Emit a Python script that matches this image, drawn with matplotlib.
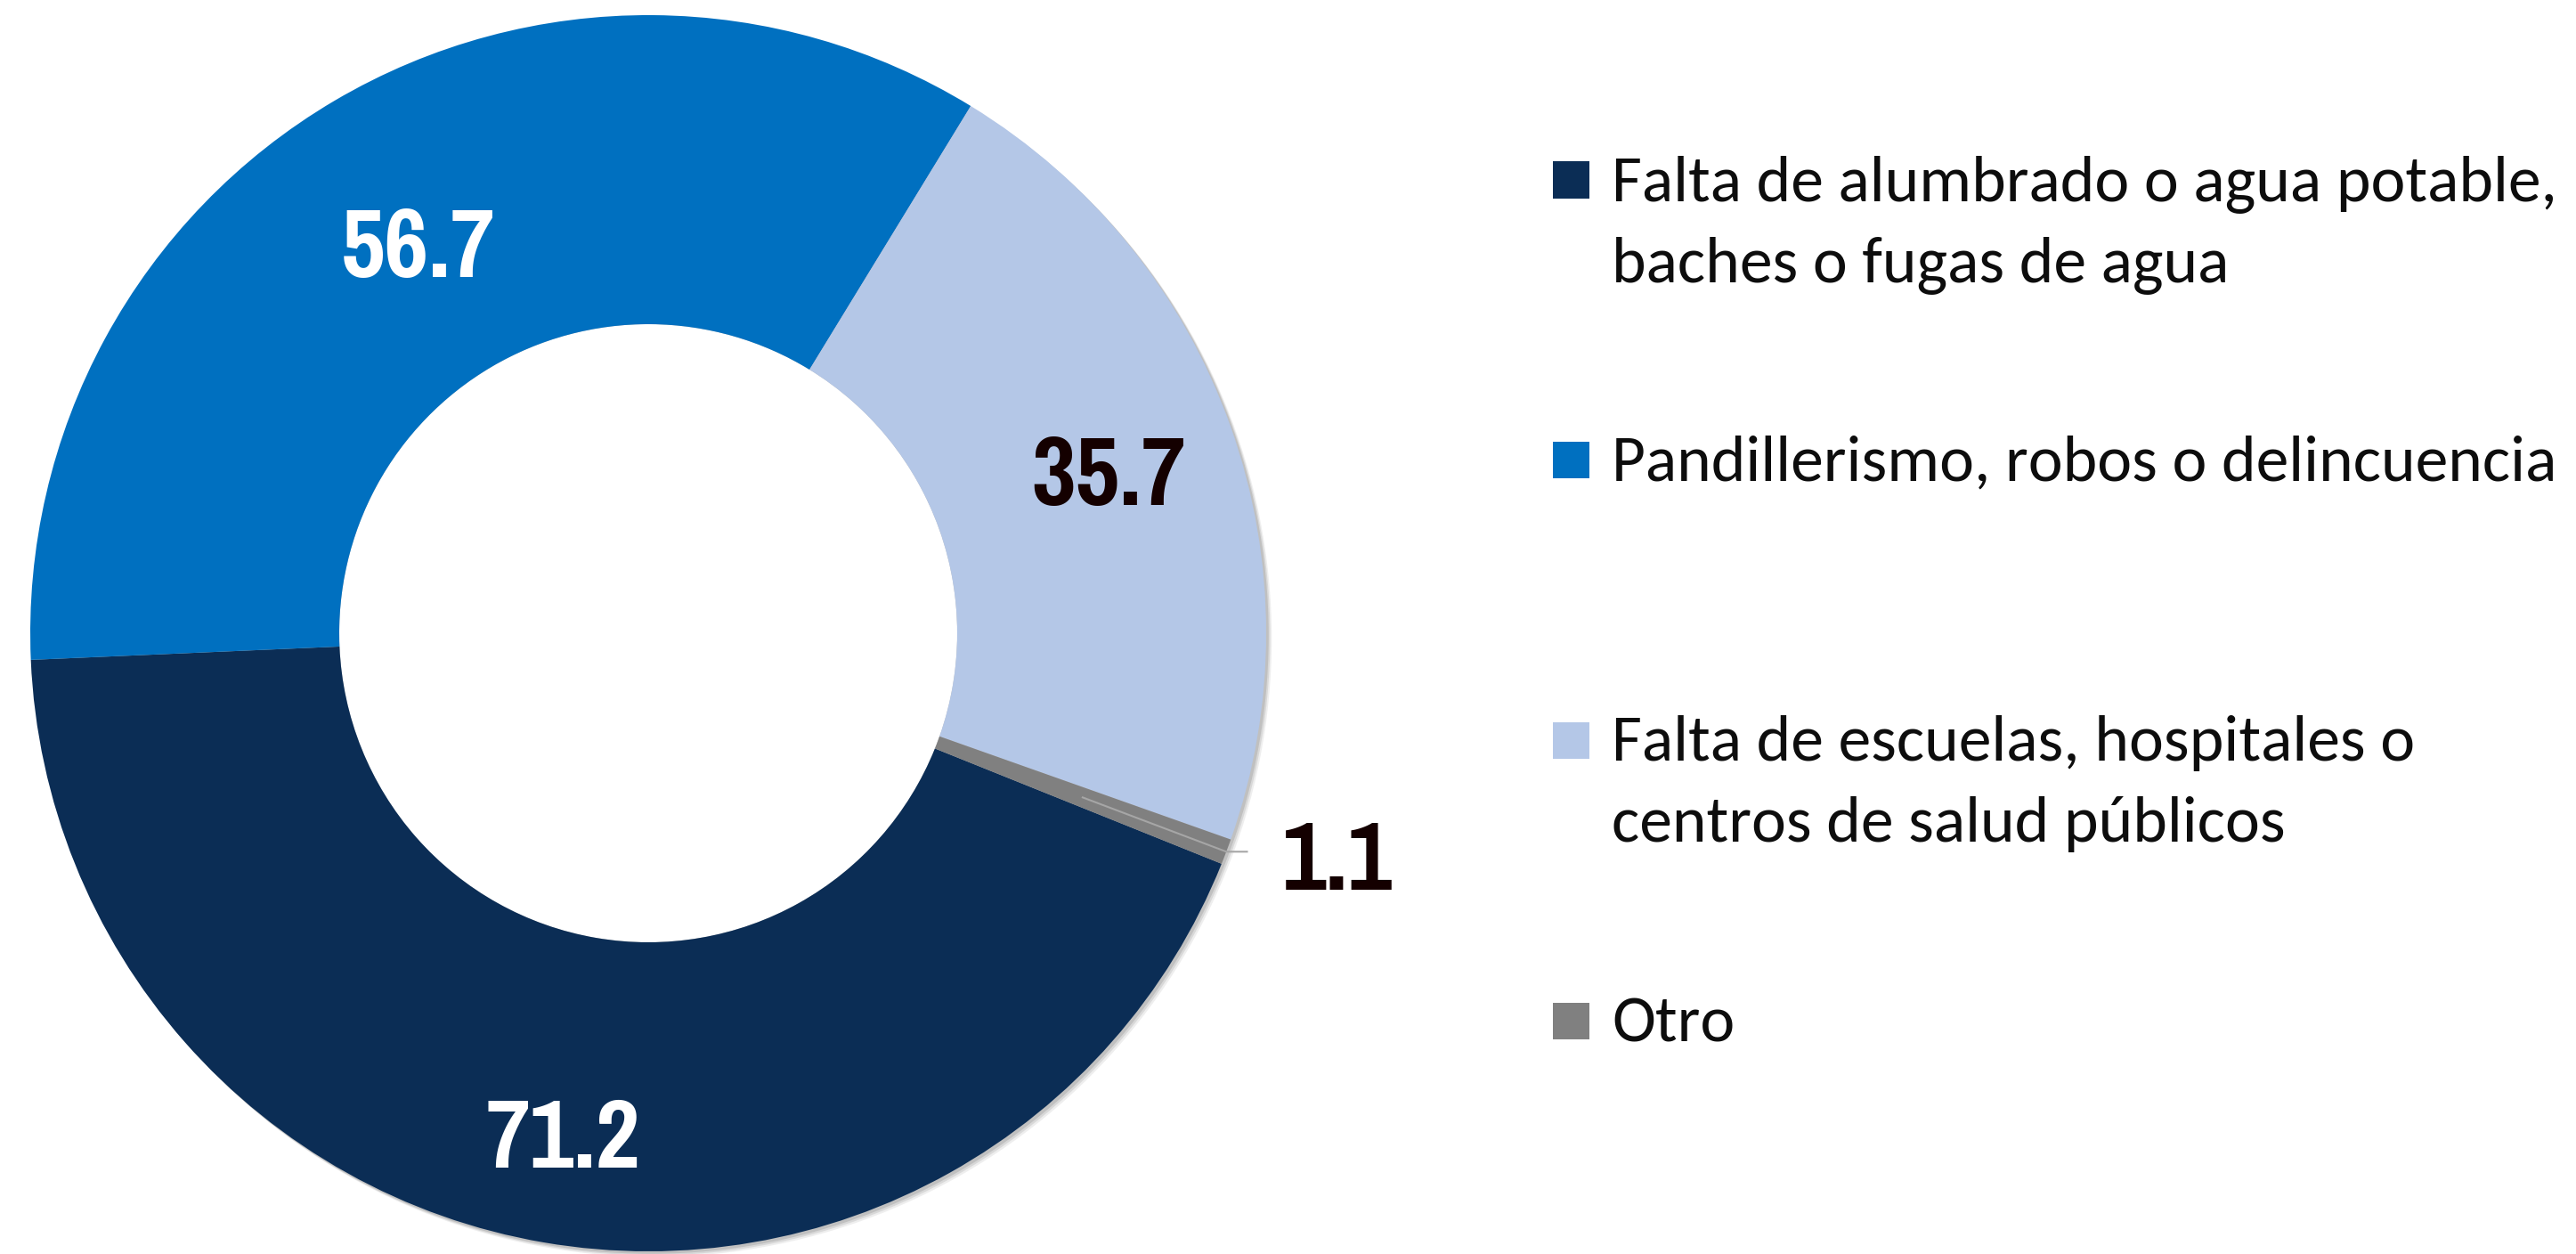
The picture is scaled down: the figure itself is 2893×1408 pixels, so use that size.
import matplotlib
matplotlib.use('Agg')
import matplotlib.pyplot as plt
import numpy as np
from matplotlib.patches import Rectangle, Wedge, Circle
from matplotlib import font_manager

categories = ["Falta de alumbrado o agua potable,\nbaches o fugas de agua",
              "Pandillerismo, robos o delincuencia",
              "Falta de escuelas, hospitales o\ncentros de salud públicos",
              "Otro"]
values = [71.2, 56.7, 35.7, 1.1]
value_labels = ["71.2", "56.7", "35.7", "1.1"]

colors = ["#0B2D55", "#0070C0", "#B4C7E7", "#808080"]
label_colors = ["white", "white", "#140000", "#140000"]

names = {f.name for f in font_manager.fontManager.ttflist}
num_cands = ['Liberation Sans Narrow', 'Arial Narrow', 'Pragati Narrow',
             'Archivo Narrow', 'Roboto Condensed']
leg_cands = ['Carlito', 'Calibri', 'Lato']
num_font = [f for f in num_cands if f in names][:1] + ['DejaVu Sans']
leg_font = [f for f in leg_cands if f in names][:1] + ['DejaVu Sans']

W, H = 2893, 1408
fig = plt.figure(figsize=(W / 100, H / 100), dpi=100)
cx, cy, R = 728, 711, 694
ax = fig.add_axes([(cx - R) / W, (H - cy - R) / H, 2 * R / W, 2 * R / H])

# soft drop shadow on the outer rim only
for dx, al in [(0.009, 0.10), (0.0065, 0.15), (0.004, 0.2)]:
    ax.add_patch(Circle((dx, -dx), 1.0, facecolor='#606060', alpha=al,
                        edgecolor='none', zorder=0, clip_on=False))
ax.add_patch(Circle((0, 0), 0.5, facecolor='white', edgecolor='none', zorder=0.5))

wedges, _ = ax.pie(values, colors=colors, startangle=-21.9, counterclock=False,
                   radius=1.0, wedgeprops=dict(width=0.5, linewidth=0, zorder=1))
ax.set_xlim(-1, 1)
ax.set_ylim(-1, 1)
ax.set_aspect('equal')
ax.axis('off')

label_r = [0.82, 0.735, 0.79]
for i, w in enumerate(wedges):
    mid = np.deg2rad((w.theta1 + w.theta2) / 2)
    if i < 3:
        ax.text(label_r[i] * np.cos(mid), label_r[i] * np.sin(mid), value_labels[i],
                ha='center', va='center_baseline', fontsize=85, fontweight='bold',
                color=label_colors[i], family=num_font, zorder=3)
    else:
        p0 = (0.75 * np.cos(mid), 0.75 * np.sin(mid))
        p1 = (1.0 * np.cos(mid), 1.0 * np.sin(mid))
        p2 = (p1[0] + 0.035, p1[1])
        ax.plot([p0[0], p1[0], p2[0]], [p0[1], p1[1], p2[1]], color='#A6A6A6',
                lw=1.5, solid_capstyle='butt', zorder=2)
        ax.text(p2[0] + 0.055, p2[1] - 0.005, value_labels[i], ha='left',
                va='center_baseline', fontsize=85, fontweight='bold',
                color=label_colors[i], family=num_font, zorder=3)

# legend
first_base = 225
item_step = 314.7
line_step = 91
sq = 41
for i, (lab, col) in enumerate(zip(categories, colors)):
    base = first_base + i * item_step
    fig.patches.append(Rectangle((1744 / W, 1 - (base - 23 + sq / 2) / H), sq / W, sq / H,
                                 transform=fig.transFigure, facecolor=col,
                                 edgecolor='none'))
    for j, line in enumerate(lab.split('\n')):
        fig.text(1810 / W, 1 - (base + j * line_step) / H, line, ha='left',
                 va='baseline', fontsize=53, color='#0D0D0D', family=leg_font)

fig.savefig('out.png', dpi=100)
